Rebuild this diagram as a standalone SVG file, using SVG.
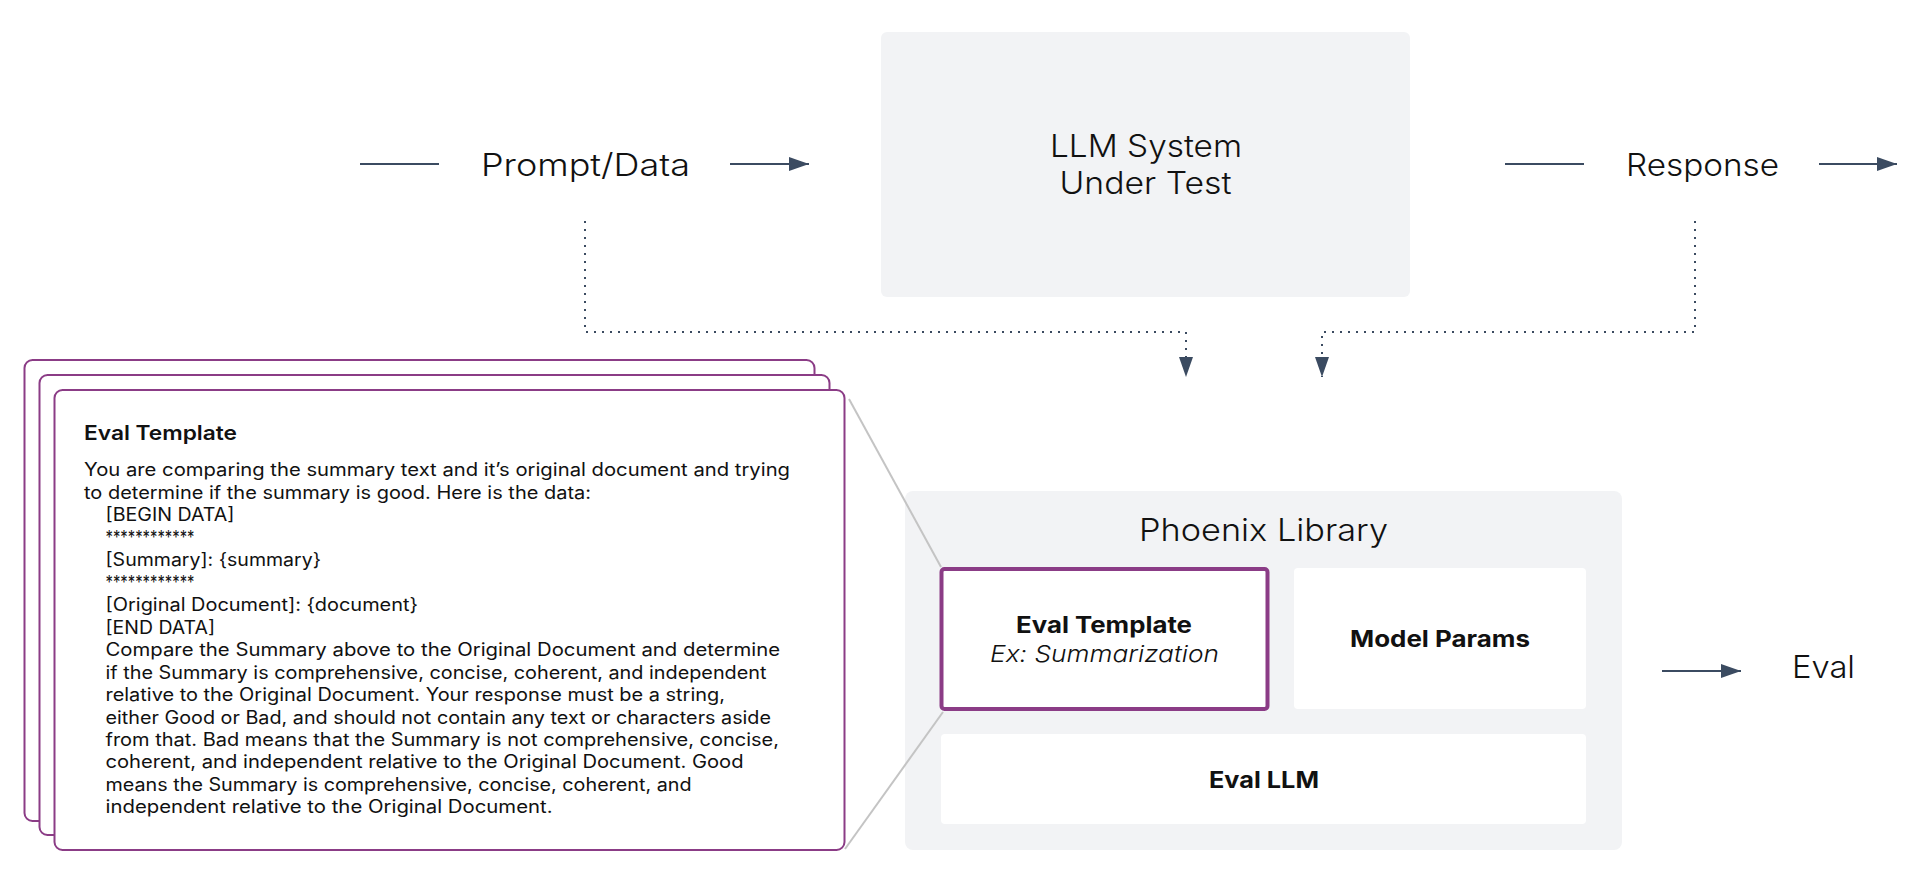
<svg xmlns="http://www.w3.org/2000/svg" width="1922" height="885" viewBox="0 0 1922 885">
<style>
.lbl{font-family:Inter,"Open Sans","Liberation Sans",sans-serif;font-weight:300;font-size:31px;fill:#111;text-anchor:middle}
.bold{font-family:Inter,"Open Sans","Liberation Sans",sans-serif;font-weight:700;font-size:23px;fill:#111;text-anchor:middle}
.ital{font-family:Inter,"Open Sans","Liberation Sans",sans-serif;font-weight:300;font-style:italic;font-size:23px;fill:#111;text-anchor:middle}
.body{font-family:Inter,"Open Sans","Liberation Sans",sans-serif;font-weight:400;font-size:18px;fill:#111}
.ctitle{font-family:Inter,"Open Sans","Liberation Sans",sans-serif;font-weight:600;font-size:20px;fill:#111}
.gray{fill:#F2F3F5}
.wbox{fill:#FFFFFF}
.card{fill:#FFFFFF;stroke:#8B3C86;stroke-width:2}
.flow{stroke:#3B4B61;stroke-width:2.2;fill:none}
.dot{stroke:#3B4B61;stroke-width:2;fill:none;stroke-dasharray:2 6}
.zoomln{stroke:#C4C4C4;stroke-width:2;fill:none}
</style>
<defs>
<marker id="ah" markerUnits="userSpaceOnUse" markerWidth="20" markerHeight="14" refX="20" refY="7" orient="auto">
<path d="M0,0 L20,7 L0,14 Z" fill="#3B4B61"/>
</marker>
</defs>
<rect width="1922" height="885" fill="#FFFFFF"/>

<g id="llm-system">
<rect class="gray" x="881" y="32" width="529" height="265" rx="6"/>
<text class="lbl" x="1146" y="157" textLength="192" lengthAdjust="spacingAndGlyphs">LLM System</text>
<text class="lbl" x="1145.5" y="194" textLength="172" lengthAdjust="spacingAndGlyphs">Under Test</text>
</g>

<g id="prompt-data">
<text class="lbl" x="585.5" y="176" textLength="209" lengthAdjust="spacingAndGlyphs">Prompt/Data</text>
</g>

<g id="response">
<text class="lbl" x="1702.5" y="176" textLength="153" lengthAdjust="spacingAndGlyphs">Response</text>
</g>

<g id="eval-output">
<text class="lbl" x="1823.5" y="678" textLength="63" lengthAdjust="spacingAndGlyphs">Eval</text>
</g>

<g id="phoenix-library">
<rect class="gray" x="905" y="491" width="717" height="359" rx="8"/>
<text class="lbl" x="1263.5" y="541" textLength="249" lengthAdjust="spacingAndGlyphs">Phoenix Library</text>
</g>

<g id="eval-template-box">
<rect x="941.5" y="569" width="326" height="140" rx="3" fill="#FFFFFF" stroke="#8B3C86" stroke-width="4"/>
<text class="bold" x="1104" y="633" textLength="176" lengthAdjust="spacingAndGlyphs">Eval Template</text>
<text class="ital" x="1104.5" y="662" textLength="229" lengthAdjust="spacingAndGlyphs">Ex: Summarization</text>
</g>

<g id="model-params">
<rect class="wbox" x="1294" y="568" width="292" height="141" rx="4"/>
<text class="bold" x="1440" y="647" textLength="180" lengthAdjust="spacingAndGlyphs">Model Params</text>
</g>

<g id="eval-llm">
<rect class="wbox" x="941" y="734" width="645" height="90" rx="4"/>
<text class="bold" x="1264" y="788" textLength="110" lengthAdjust="spacingAndGlyphs">Eval LLM</text>
</g>

<g id="template-cards">
<rect class="card" x="24.5" y="360" width="790" height="461" rx="8"/>
<rect class="card" x="39.5" y="375" width="790" height="460" rx="8"/>
<rect class="card" x="54.5" y="390" width="790" height="460" rx="8"/>
<text class="ctitle" x="84" y="439.5" textLength="153" lengthAdjust="spacingAndGlyphs">Eval Template</text>
<text class="body" x="84" y="476.3" textLength="706" lengthAdjust="spacingAndGlyphs">You are comparing the summary text and it’s original document and trying</text>
<text class="body" x="84" y="498.8" textLength="507" lengthAdjust="spacingAndGlyphs">to determine if the summary is good. Here is the data:</text>
<text class="body" x="105.5" y="521.2" textLength="129" lengthAdjust="spacingAndGlyphs">[BEGIN DATA]</text>
<text class="body" x="105.5" y="543.7" textLength="89" lengthAdjust="spacingAndGlyphs">************</text>
<text class="body" x="105.5" y="566.2" textLength="215.5" lengthAdjust="spacingAndGlyphs">[Summary]: {summary}</text>
<text class="body" x="105.5" y="588.6" textLength="89" lengthAdjust="spacingAndGlyphs">************</text>
<text class="body" x="105.5" y="611.1" textLength="312.5" lengthAdjust="spacingAndGlyphs">[Original Document]: {document}</text>
<text class="body" x="105.5" y="633.6" textLength="109.5" lengthAdjust="spacingAndGlyphs">[END DATA]</text>
<text class="body" x="105.5" y="656.1" textLength="674.5" lengthAdjust="spacingAndGlyphs">Compare the Summary above to the Original Document and determine</text>
<text class="body" x="105.5" y="678.5" textLength="661" lengthAdjust="spacingAndGlyphs">if the Summary is comprehensive, concise, coherent, and independent</text>
<text class="body" x="105.5" y="701" textLength="619.5" lengthAdjust="spacingAndGlyphs">relative to the Original Document. Your response must be a string,</text>
<text class="body" x="105.5" y="723.5" textLength="665.5" lengthAdjust="spacingAndGlyphs">either Good or Bad, and should not contain any text or characters aside</text>
<text class="body" x="105.5" y="745.9" textLength="673.5" lengthAdjust="spacingAndGlyphs">from that. Bad means that the Summary is not comprehensive, concise,</text>
<text class="body" x="105.5" y="768.4" textLength="638" lengthAdjust="spacingAndGlyphs">coherent, and independent relative to the Original Document. Good</text>
<text class="body" x="105.5" y="790.9" textLength="586" lengthAdjust="spacingAndGlyphs">means the Summary is comprehensive, concise, coherent, and</text>
<text class="body" x="105.5" y="813.3" textLength="447" lengthAdjust="spacingAndGlyphs">independent relative to the Original Document.</text>
</g>

<g id="connectors">
<line class="flow" x1="360" y1="164" x2="439" y2="164"/>
<line class="flow" x1="730" y1="164" x2="809" y2="164" marker-end="url(#ah)"/>
<line class="flow" x1="1505" y1="164" x2="1584" y2="164"/>
<line class="flow" x1="1819" y1="164" x2="1897" y2="164" marker-end="url(#ah)"/>
<line class="flow" x1="1662" y1="671" x2="1741" y2="671" marker-end="url(#ah)"/>
<path class="dot" d="M585,221 V332 H1186 V377" marker-end="url(#ah)"/>
<path class="dot" d="M1695,221 V332 H1322 V377" marker-end="url(#ah)"/>
<line class="zoomln" x1="849" y1="399" x2="941" y2="567"/>
<line class="zoomln" x1="845" y1="849" x2="943" y2="712"/>
</g>
</svg>
